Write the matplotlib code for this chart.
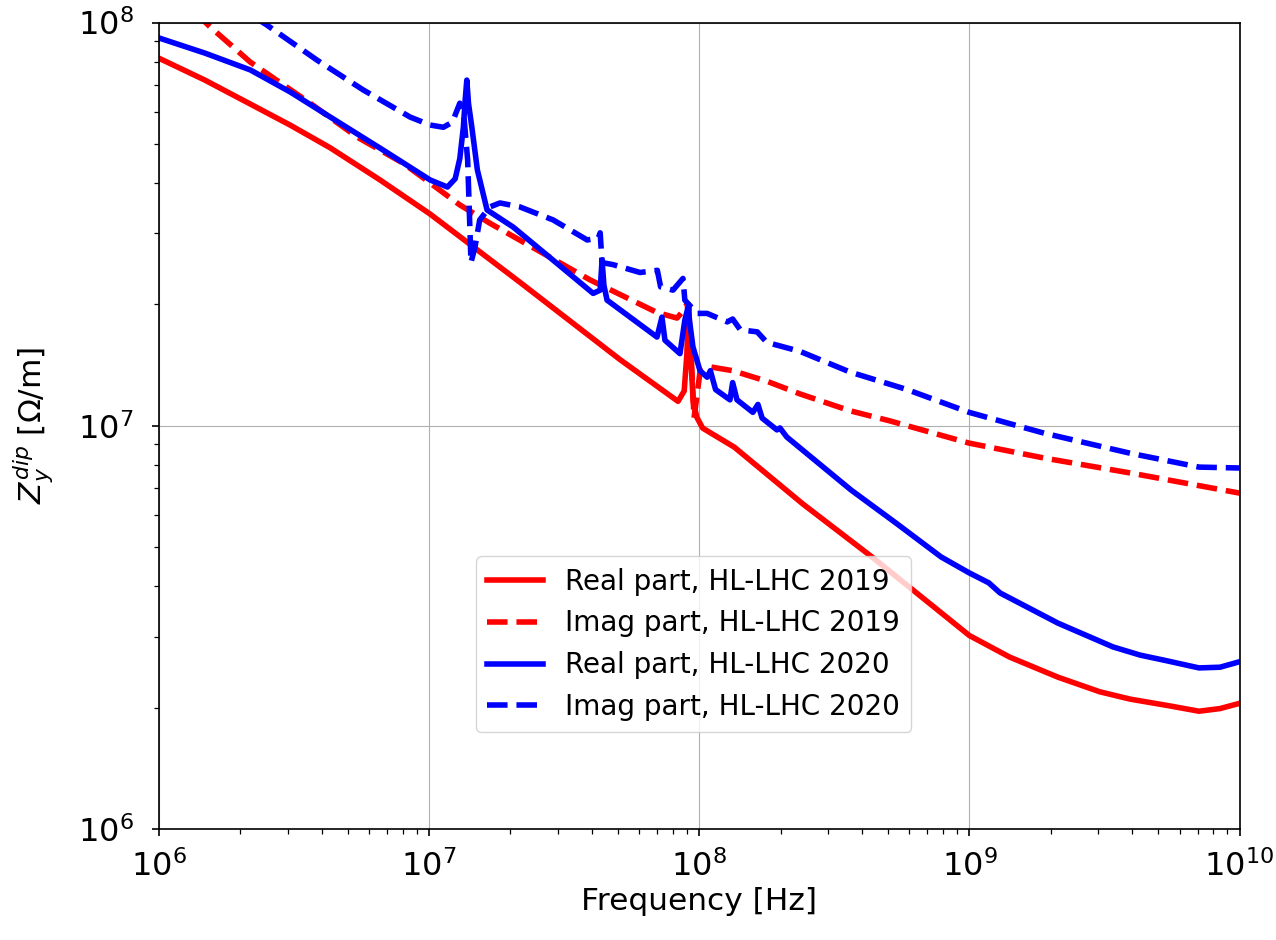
import numpy as np
import matplotlib
matplotlib.use("Agg")
import matplotlib.pyplot as plt
from matplotlib.ticker import LogLocator, NullFormatter

# values (frequency in Hz, impedance in Ohm/m)
f_re_2019 = [1.00e6, 1.48e6, 2.18e6, 3.06e6, 4.31e6, 6.59e6, 1.01e7, 2.17e7, 5.09e7,
             8.35e7, 8.80e7, 9.00e7, 9.15e7, 9.30e7, 9.50e7, 9.80e7, 1.03e8, 1.35e8,
             2.42e8, 4.36e8, 1.00e9, 1.41e9, 2.13e9, 3.04e9, 3.94e9, 5.53e9, 7.08e9,
             8.47e9, 1.00e10]
z_re_2019 = [8.16e7, 7.20e7, 6.28e7, 5.57e7, 4.89e7, 4.07e7, 3.35e7, 2.27e7, 1.46e7,
             1.15e7, 1.22e7, 1.50e7, 2.00e7, 1.50e7, 1.15e7, 1.05e7, 9.87e6, 8.85e6,
             6.40e6, 4.73e6, 3.02e6, 2.67e6, 2.38e6, 2.19e6, 2.10e6, 2.02e6, 1.96e6,
             1.99e6, 2.05e6]

f_im_2019 = [1.36e6, 1.55e6, 2.18e6, 3.63e6, 5.42e6, 8.02e6, 1.01e7, 1.30e7, 1.68e7,
             3.95e7, 6.98e7, 8.28e7, 8.79e7, 9.02e7, 9.25e7, 9.57e7, 1.007e8, 1.10e8,
             1.33e8, 1.78e8, 2.36e8, 3.61e8, 5.04e8, 9.98e8, 1.89e9, 3.94e9, 1.00e10]
z_im_2019 = [1.06e8, 9.75e7, 7.98e7, 6.31e7, 5.20e7, 4.48e7, 4.00e7, 3.53e7, 3.18e7,
             2.30e7, 1.91e7, 1.85e7, 1.94e7, 2.01e7, 1.73e7, 1.045e7, 1.36e7, 1.40e7,
             1.37e7, 1.29e7, 1.20e7, 1.09e7, 1.03e7, 9.06e6, 8.32e6, 7.64e6, 6.81e6]

f_re_2020 = [1.00e6, 1.48e6, 2.18e6, 3.06e6, 4.31e6, 6.76e6, 1.01e7, 1.17e7, 1.25e7,
             1.30e7, 1.34e7, 1.36e7, 1.38e7, 1.40e7, 1.44e7, 1.51e7, 1.64e7, 2.05e7,
             4.05e7, 4.30e7, 4.37e7, 4.44e7, 4.56e7, 6.98e7, 7.28e7, 7.47e7, 8.49e7,
             8.85e7, 9.08e7, 9.48e7, 1.007e8, 1.07e8, 1.10e8, 1.15e8, 1.30e8, 1.33e8,
             1.38e8, 1.58e8, 1.65e8, 1.71e8, 1.94e8, 1.99e8, 2.11e8, 3.65e8, 5.35e8,
             7.86e8, 9.98e8, 1.18e9, 1.30e9, 2.13e9, 3.40e9, 4.29e9, 5.30e9, 7.08e9,
             8.47e9, 1.00e10]
z_re_2020 = [9.16e7, 8.40e7, 7.63e7, 6.73e7, 5.83e7, 4.83e7, 4.07e7, 3.91e7, 4.10e7,
             4.60e7, 5.50e7, 6.40e7, 7.20e7, 6.30e7, 5.51e7, 4.31e7, 3.43e7, 3.11e7,
             2.13e7, 2.17e7, 2.58e7, 2.23e7, 2.05e7, 1.66e7, 1.86e7, 1.63e7, 1.51e7,
             1.83e7, 1.96e7, 1.57e7, 1.37e7, 1.32e7, 1.37e7, 1.23e7, 1.16e7, 1.28e7,
             1.16e7, 1.08e7, 1.13e7, 1.045e7, 9.77e6, 9.88e6, 9.38e6, 6.93e6, 5.74e6,
             4.73e6, 4.32e6, 4.08e6, 3.85e6, 3.24e6, 2.83e6, 2.70e6, 2.62e6, 2.51e6,
             2.52e6, 2.60e6]

f_im_2020 = [2.27e6, 2.51e6, 3.85e6, 5.70e6, 8.51e6, 1.01e7, 1.13e7, 1.22e7, 1.30e7,
             1.35e7, 1.39e7, 1.43e7, 1.48e7, 1.54e7, 1.68e7, 1.83e7, 2.17e7, 2.88e7,
             3.85e7, 4.23e7, 4.30e7, 4.37e7, 4.80e7, 6.04e7, 7.00e7, 7.20e7, 8.00e7,
             8.71e7, 8.85e7, 9.82e7, 1.07e8, 1.27e8, 1.33e8, 1.42e8, 1.64e8, 1.78e8,
             2.36e8, 3.61e8, 5.88e8, 9.98e8, 1.89e9, 3.94e9, 7.08e9, 1.00e10]
z_im_2020 = [1.03e8, 9.86e7, 8.07e7, 6.81e7, 5.83e7, 5.57e7, 5.50e7, 5.66e7, 6.31e7,
             5.73e7, 4.56e7, 2.54e7, 2.78e7, 3.24e7, 3.49e7, 3.57e7, 3.49e7, 3.24e7,
             2.89e7, 2.92e7, 3.01e7, 2.54e7, 2.51e7, 2.40e7, 2.43e7, 2.21e7, 2.17e7,
             2.32e7, 2.05e7, 1.90e7, 1.90e7, 1.81e7, 1.84e7, 1.73e7, 1.71e7, 1.61e7,
             1.53e7, 1.36e7, 1.23e7, 1.08e7, 9.59e6, 8.55e6, 7.90e6, 7.86e6]

fig = plt.figure(figsize=(12.76, 9.4), dpi=100)
ax = fig.add_subplot(111)
fig.subplots_adjust(left=0.1245, right=0.9714, top=0.976, bottom=0.118)

ax.loglog(f_re_2019, z_re_2019, "r-", lw=4, label="Real part, HL-LHC 2019")
ax.loglog(f_im_2019, z_im_2019, "r--", lw=4, label="Imag part, HL-LHC 2019")
ax.loglog(f_re_2020, z_re_2020, "b-", lw=4, label="Real part, HL-LHC 2020")
ax.loglog(f_im_2020, z_im_2020, "b--", lw=4, label="Imag part, HL-LHC 2020")

ax.set_xlim(1e6, 1e10)
ax.set_ylim(1e6, 1e8)
for axis in (ax.xaxis, ax.yaxis):
    axis.set_minor_locator(LogLocator(base=10, subs=np.arange(2, 10), numticks=100))
    axis.set_minor_formatter(NullFormatter())
for s in ax.spines.values():
    s.set_linewidth(1.2)
ax.grid(True, which="major")
ax.tick_params(which="major", labelsize=23, length=5, width=1.2, pad=13)
ax.tick_params(axis="x", which="major", pad=10)
ax.tick_params(which="minor", length=3.5, width=0.9)
ax.set_xlabel("Frequency [Hz]", fontsize=22.5, labelpad=3)
ax.set_ylabel(r"$Z_y^{dip}$ [$\Omega$/m]", fontsize=22.5, labelpad=16)
ax.legend(loc="center", bbox_to_anchor=(0.495, 0.229), fontsize=20)

fig.savefig("out.png", dpi=100)
